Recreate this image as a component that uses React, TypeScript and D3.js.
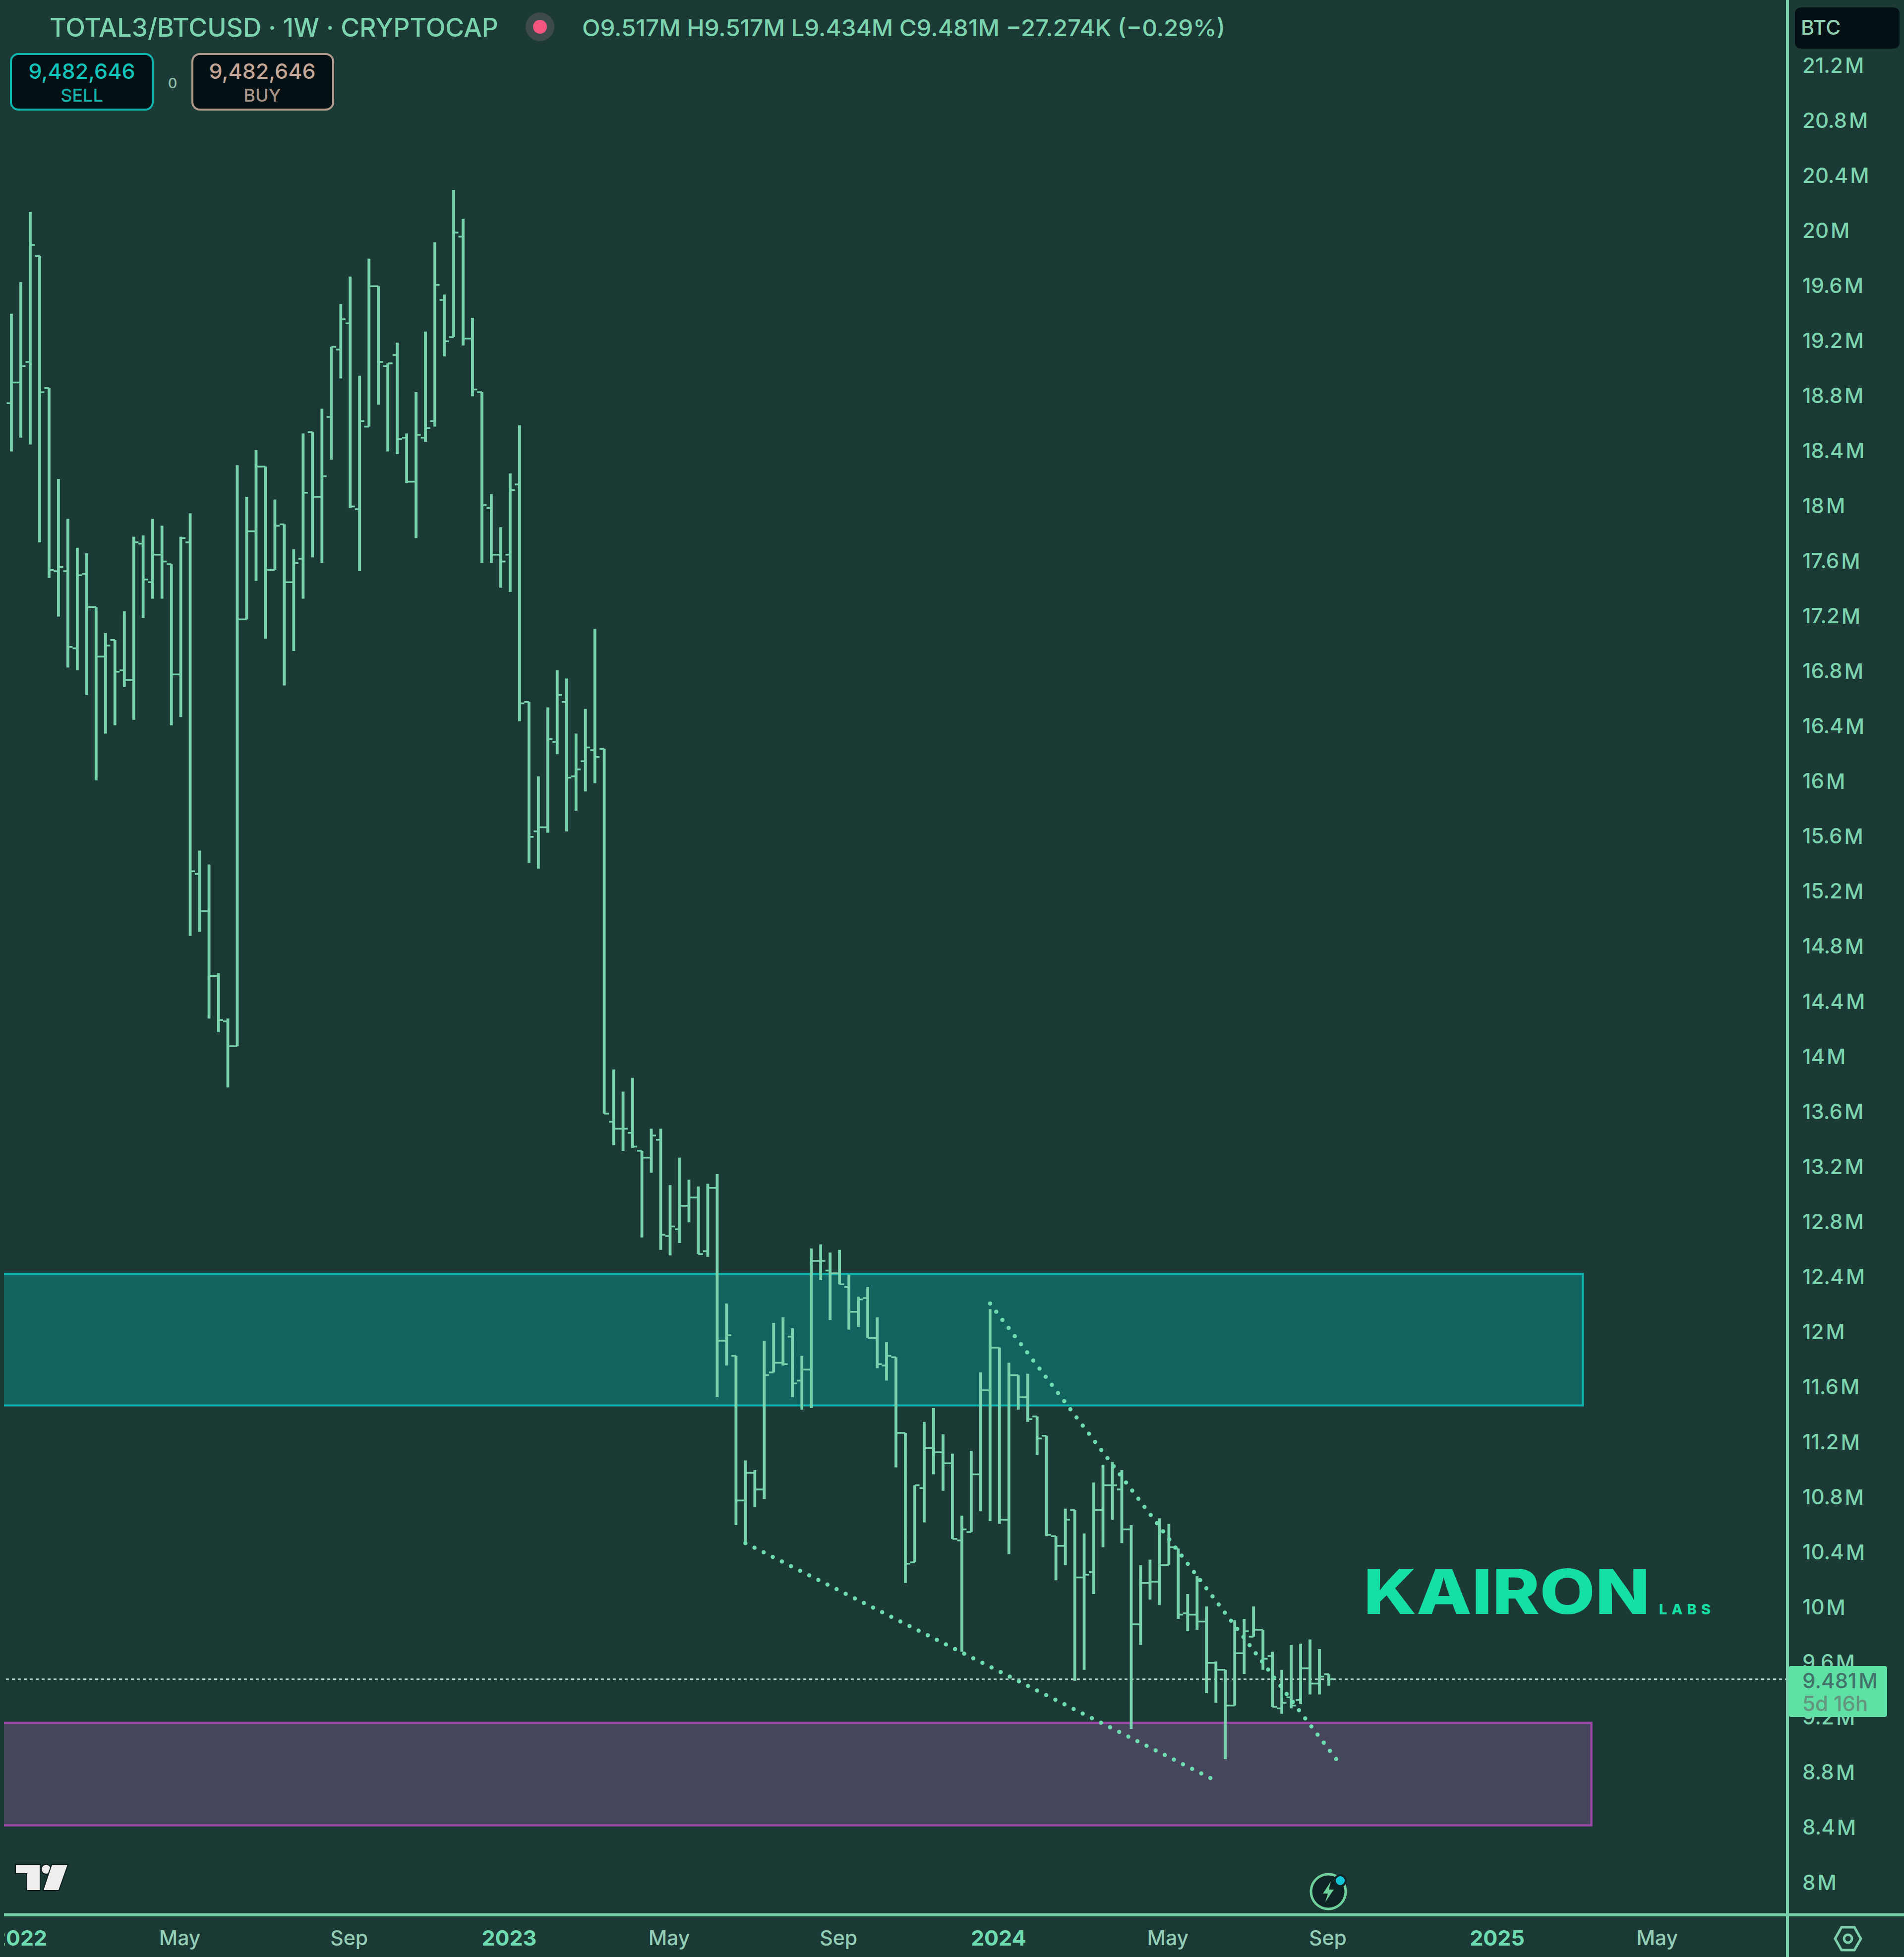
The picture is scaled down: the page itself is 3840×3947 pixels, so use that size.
import React from "react";
import * as d3 from "d3";

// Weekly OHLC values, in millions (TOTAL3/BTC)
const opens = [
  18.75,18.90,19.05,19.82,18.86,17.53,17.53,16.97,17.51,17.27,
  16.91,17.03,16.81,16.74,17.73,17.45,17.65,17.58,16.78,17.74,
  15.33,15.06,14.59,14.26,14.08,17.18,17.82,18.29,17.54,17.87,
  17.45,17.62,18.54,18.07,18.65,19.14,19.33,17.98,18.58,19.60,
  19.02,19.10,18.50,18.18,18.50,18.62,19.50,19.23,19.96,19.22,
  18.83,17.99,17.65,17.65,18.16,16.58,15.64,15.67,16.29,16.58,
  16.04,16.15,16.23,16.24,13.53,13.48,13.45,13.32,13.27,13.40,
  12.70,12.75,12.92,12.98,12.59,13.05,11.94,11.83,10.78,10.98,
  10.86,11.71,11.78,11.97,11.65,11.73,12.52,12.45,12.43,12.33,
  12.15,12.25,11.96,11.76,11.82,11.27,10.33,10.87,11.16,11.13,
  11.05,10.49,10.55,10.97,11.58,11.89,10.64,11.69,11.53,11.39,
  11.25,10.52,10.45,10.71,10.22,10.26,10.71,10.89,10.86,10.57,
  9.88,10.18,10.19,10.31,10.43,9.96,9.95,9.90,9.60,9.55,
  9.29,9.67,9.79,9.84,9.65,9.27,9.35,9.33,9.56,9.45,
  9.517,
];
const highs = [
  19.40,19.63,20.14,19.82,18.86,18.20,17.91,17.70,17.66,17.27,
  17.08,17.03,17.24,17.78,17.79,17.91,17.86,17.58,17.78,17.95,
  15.50,15.40,14.61,14.28,18.30,18.07,18.41,18.29,18.05,17.87,
  17.69,18.53,18.54,18.71,19.16,19.47,19.67,18.95,19.80,19.60,
  19.04,19.19,18.53,18.83,19.27,19.92,19.54,20.30,20.09,19.37,
  18.83,18.09,17.85,18.24,18.59,16.58,16.04,16.54,16.81,16.75,
  16.35,16.53,17.11,16.24,13.91,13.75,13.85,13.32,13.48,13.48,
  13.07,13.27,13.11,13.06,13.08,13.15,12.21,11.83,11.07,11.00,
  11.94,12.07,12.11,12.03,11.83,12.61,12.64,12.58,12.60,12.42,
  12.26,12.33,12.11,11.93,11.82,11.27,10.89,11.35,11.45,11.26,
  11.12,10.67,11.14,11.71,12.17,11.89,11.78,11.69,11.70,11.39,
  11.25,10.52,10.72,10.71,10.54,10.91,11.04,11.06,11.00,10.60,
  10.31,10.35,10.65,10.61,10.43,10.10,10.23,10.01,9.61,9.55,
  9.91,9.92,10.01,9.84,9.68,9.55,9.73,9.74,9.77,9.70,
  9.517,
];
const lows = [
  18.40,18.50,18.45,17.74,17.48,17.20,16.83,16.81,16.63,16.01,
  16.35,16.41,16.69,16.45,17.19,17.33,17.33,16.41,16.47,14.88,
  14.91,14.28,14.18,13.78,14.08,17.18,17.46,17.04,17.54,16.70,
  16.95,17.33,17.63,17.59,18.34,18.93,17.99,17.53,18.58,18.74,
  18.40,18.38,18.17,17.77,18.47,18.58,19.09,19.23,19.17,18.80,
  17.59,17.59,17.41,17.38,16.44,15.41,15.37,15.63,16.20,15.64,
  15.79,15.93,15.99,13.59,13.36,13.32,13.34,12.69,13.16,12.60,
  12.56,12.65,12.80,12.57,12.55,11.53,11.76,10.60,10.47,10.73,
  10.79,11.71,11.76,11.53,11.44,11.45,12.38,12.09,12.35,12.02,
  12.04,11.96,11.74,11.65,11.02,10.18,10.33,10.62,10.97,10.85,
  10.50,9.68,10.55,10.70,10.63,10.61,10.39,11.44,11.35,11.11,
  10.52,10.20,10.31,9.47,9.55,10.10,10.44,10.64,10.47,9.12,
  9.73,10.06,10.02,10.31,9.92,9.83,9.84,9.38,9.31,8.90,
  9.29,9.52,9.79,9.55,9.28,9.23,9.27,9.30,9.37,9.37,
  9.434,
];
const closes = [
  18.90,19.02,19.90,18.83,17.54,17.56,16.98,17.50,17.27,16.91,
  16.99,16.80,16.74,17.74,17.47,17.65,17.60,16.78,17.77,15.35,
  15.06,14.59,14.27,14.08,17.18,17.82,18.29,17.54,17.86,17.45,
  17.59,18.10,18.07,18.22,19.16,19.36,18.00,18.62,19.60,19.05,
  19.04,18.49,18.18,18.52,18.57,19.61,19.20,19.99,19.22,18.85,
  18.01,17.65,17.60,18.12,16.57,15.60,15.67,16.31,16.63,16.03,
  16.09,16.25,16.18,13.59,13.48,13.48,13.35,13.27,13.43,12.71,
  12.77,12.92,12.98,12.57,13.05,11.94,11.98,10.78,10.98,10.86,
  11.69,11.78,11.77,11.63,11.73,12.52,12.52,12.43,12.35,12.15,
  12.24,11.96,11.77,11.83,11.27,10.32,10.89,11.16,11.13,11.05,
  10.50,10.57,10.97,11.58,11.89,10.64,11.69,11.53,11.37,11.23,
  10.53,10.45,10.64,10.22,10.24,10.71,10.89,10.89,10.57,9.88,
  10.18,10.19,10.31,10.44,9.95,9.95,9.90,9.60,9.55,9.29,
  9.67,9.83,9.84,9.63,9.28,9.31,9.29,9.56,9.45,9.50,
  9.481,
];

const priceTicks = [21.2,20.8,20.4,20,19.6,19.2,18.8,18.4,18,17.6,17.2,16.8,16.4,16,15.6,15.2,14.8,14.4,14,13.6,13.2,12.8,12.4,12,11.6,11.2,10.8,10.4,10,9.6,9.2,8.8,8.4,8];
const timeTickBars = [1,18,36,53,70,88,105,123,140,158,175];
const timeTickLabels = ["2022","May","Sep","2023","May","Sep","2024","May","Sep","2025","May"];
const lastPrice = 9.481;

// Zones: start bar, end bar, top value, bottom value
const tealZone = [-4, 167, 12.424, 11.47];
const purpleZone = [-4, 167.9, 9.164, 8.42];
// Trend lines: bar, value pairs
const upperTrend = [[104, 12.21], [140.9, 8.89]];
const lowerTrend = [[78, 10.47], [127.8, 8.75]];

const W = 3840, H = 3947;
const AXIS_X = 3605, AXIS_Y = 3862;
const FONT = "Inter, Roboto, sans-serif";
const BAR = "#78d2ab";
const TXT = "#7cd4ae";

const x = d3.scaleLinear().domain([0, 140]).range([23, 2680]);
const y = d3.scaleLinear().domain([8, 21.2]).range([3798, 133]);
const TICK = 9.5;

const stems = d3.path();
const ticks = d3.path();
opens.forEach((o, i) => {
  const px = x(i);
  stems.moveTo(px, y(highs[i]));
  stems.lineTo(px, y(lows[i]));
  ticks.moveTo(px - TICK, y(o));
  ticks.lineTo(px, y(o));
  ticks.moveTo(px, y(closes[i]));
  ticks.lineTo(px + TICK, y(closes[i]));
});

const trendLine = d3.line<number[]>().x((d) => x(d[0])).y((d) => y(d[1]));

function Zone({ z, fill, stroke, sw }: { z: number[]; fill: string; stroke: string; sw: number }) {
  return (
    <rect x={x(z[0])} y={y(z[2])} width={x(z[1]) - x(z[0])} height={y(z[3]) - y(z[2])}
      fill={fill} stroke={stroke} strokeWidth={sw} clipPath="url(#leftClip)" />
  );
}

function Priced({ v, px, py, size, fill }: { v: number; px: number; py: number; size: number; fill: string }) {
  return (
    <text x={px} y={py} fontSize={size} fill={fill} fontFamily={FONT} dominantBaseline="central" fontWeight={500}>
      {v}<tspan dx={4}>M</tspan>
    </text>
  );
}

export default function App() {
  return (
    <svg width={W} height={H} viewBox={`0 0 ${W} ${H}`}
      style={{ position: "absolute", left: 0, top: 0, display: "block", background: "#1b3a36" }}>
      <defs>
        <clipPath id="leftClip" clipPathUnits="userSpaceOnUse"><rect x={8} y={0} width={W} height={H} /></clipPath>
      </defs>

      <Zone z={tealZone} fill="#12635f" stroke="#0fb4ae" sw={4} />
      <Zone z={purpleZone} fill="#45465c" stroke="#9b47a8" sw={4.5} />

      <line x1={12} x2={AXIS_X} y1={y(lastPrice)} y2={y(lastPrice)} stroke="#b5d8c9" strokeWidth={3} strokeDasharray="6 6" />

      <path d={stems.toString()} fill="none" stroke={BAR} strokeWidth={5.8} />
      <path d={ticks.toString()} fill="none" stroke={BAR} strokeWidth={3.5} />

      <path d={trendLine(upperTrend) || ""} fill="none" stroke="#6fdcb0" strokeWidth={8.5} strokeLinecap="round" strokeDasharray="0 20.6" />
      <path d={trendLine(lowerTrend) || ""} fill="none" stroke="#6fdcb0" strokeWidth={8.5} strokeLinecap="round" strokeDasharray="0 20.6" />

      {/* legend */}
      <text x={100} y={55} fontSize={52} fill={TXT} fontFamily={FONT} dominantBaseline="central" fontWeight={500} textLength={905} lengthAdjust="spacingAndGlyphs">TOTAL3/BTCUSD · 1W · CRYPTOCAP</text>
      <circle cx={1089} cy={54} r={29} fill="#3f4a4c" />
      <circle cx={1089} cy={54} r={14} fill="#f4567f" />
      <text x={1174} y={55} fontSize={47} fill={TXT} fontFamily={FONT} dominantBaseline="central" fontWeight={500} textLength={1297} lengthAdjust="spacingAndGlyphs">O9.517M H9.517M L9.434M C9.481M −27.274K (−0.29%)</text>

      {/* order boxes */}
      <rect x={22} y={109} width={286} height={112} rx={15} fill="#031114" stroke="#0fb4ae" strokeWidth={4} />
      <text x={165} y={143} fontSize={43} fill="#10c6bc" fontFamily={FONT} textAnchor="middle" dominantBaseline="central" fontWeight={500}>9,482,646</text>
      <text x={165} y={192} fontSize={36} fill="#10b0a8" fontFamily={FONT} textAnchor="middle" dominantBaseline="central" fontWeight={500}>SELL</text>
      <text x={348} y={167} fontSize={29} fill="#8fbfaa" fontFamily={FONT} textAnchor="middle" dominantBaseline="central" fontWeight={500}>0</text>
      <rect x={388} y={109} width={284} height={112} rx={15} fill="#031114" stroke="#b09a8c" strokeWidth={4} />
      <text x={529} y={143} fontSize={43} fill="#c4a697" fontFamily={FONT} textAnchor="middle" dominantBaseline="central" fontWeight={500}>9,482,646</text>
      <text x={529} y={192} fontSize={36} fill="#a89486" fontFamily={FONT} textAnchor="middle" dominantBaseline="central" fontWeight={500}>BUY</text>

      {/* watermark */}
      <text x={2750} y={3255} fontSize={125} fontWeight={800} fill="#15dfa2" fontFamily={FONT} textLength={578} lengthAdjust="spacingAndGlyphs">KAIRON</text>
      <text x={3346} y={3256} fontSize={29} fontWeight={800} fill="#15dfa2" fontFamily={FONT} textLength={104} lengthAdjust="spacing">LABS</text>

      {/* TradingView mark */}
      <g fill="#f0eeec" stroke="#0a1c1c" strokeWidth={4} paintOrder="stroke">
        <polygon points="32,3761 80,3761 80,3812 55,3812 55,3778 32,3778" />
        <circle cx={93} cy={3770} r={9} />
        <polygon points="105,3761 136,3761 118,3812 88,3812" />
      </g>

      {/* bolt icon */}
      <circle cx={2679} cy={3815} r={35} fill="#0f2424" stroke="#6fd09c" strokeWidth={5} />
      <path d="M2684,3795 L2668,3819 L2678,3819 L2673,3836 L2690,3811 L2680,3811 Z" fill="#6fd09c" />
      <circle cx={2703} cy={3793} r={11} fill="#12c6d8" stroke="#0f2424" strokeWidth={4} />

      {/* price axis */}
      <line x1={AXIS_X} x2={AXIS_X} y1={0} y2={H} stroke="#78cfa9" strokeWidth={6} />
      <line x1={8} x2={W} y1={AXIS_Y} y2={AXIS_Y} stroke="#78cfa9" strokeWidth={6} />

      <rect x={3620} y={15} width={211} height={83} rx={12} fill="#031114" />
      <text x={3632} y={55} fontSize={41} fill="#8fd0b0" fontFamily={FONT} dominantBaseline="central" fontWeight={500}>BTC</text>

      {priceTicks.map((t) => (
        <Priced key={t} v={t} px={3635} py={y(t) - 2} size={42} fill={TXT} />
      ))}

      <rect x={3607} y={3360} width={199} height={103} rx={5} fill="#5fe0a5" />
      <Priced v={lastPrice} px={3635} py={3389} size={42} fill="#42736a" />
      <text x={3635} y={3435} fontSize={42} fill="#64957f" fontFamily={FONT} dominantBaseline="central" fontWeight={500}>5d 16h</text>

      {/* time axis */}
      <g clipPath="url(#leftClip)">
        {timeTickBars.map((b, i) => {
          const isYear = /^\d+$/.test(timeTickLabels[i]);
          return (
            <text key={b} x={x(b) - 2} y={3908} fontSize={isYear ? 43 : 41} fontWeight={isYear ? 700 : 500}
              fill={isYear ? "#6edbb0" : "#93cdb5"} fontFamily={FONT} textAnchor="middle" dominantBaseline="central">
              {timeTickLabels[i]}
            </text>
          );
        })}
      </g>

      {/* settings icon */}
      <g fill="none" stroke="#7dd0ac" strokeWidth={5}>
        <polygon points="3701,3910 3714,3887 3740,3887 3753,3910 3740,3933 3714,3933" />
        <circle cx={3727} cy={3910} r={8} />
      </g>
    </svg>
  );
}
